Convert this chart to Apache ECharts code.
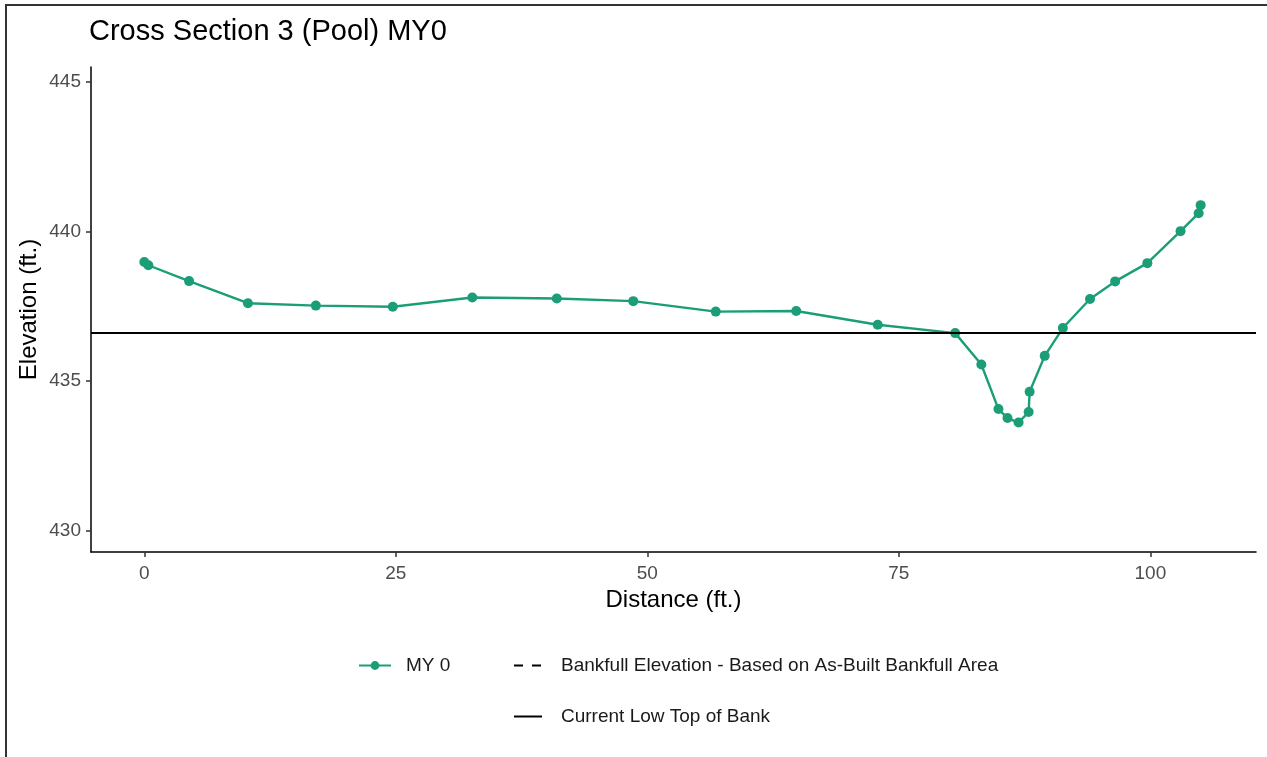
<!DOCTYPE html>
<html>
<head>
<meta charset="utf-8">
<script src="https://cdn.jsdelivr.net/npm/echarts@6/dist/echarts.min.js"></script>
<style>
html,body{margin:0;padding:0;background:#fff;}
#chart{width:1267px;height:757px;}
</style>
</head>
<body>
<div id="chart"></div>
<script>
// Cross-section survey points (MY 0)
var distance = [0, 0.4, 4.45, 10.3, 17.05, 24.7, 32.6, 41.0, 48.6, 56.8, 64.8, 72.9, 80.6, 83.2, 84.9, 85.8, 86.9, 87.9, 88.0, 89.5, 91.3, 94.0, 96.5, 99.7, 103.0, 104.8, 105.0];
var elevation = [438.98, 438.87, 438.34, 437.60, 437.52, 437.48, 437.79, 437.76, 437.67, 437.32, 437.34, 436.88, 436.60, 435.55, 434.06, 433.76, 433.61, 433.96, 434.64, 435.84, 436.77, 437.74, 438.33, 438.94, 440.01, 440.61, 440.88];
var lowTopOfBank = 436.60;
var xTicks = [0, 25, 50, 75, 100];
var yTicks = [430, 435, 440, 445];
var seriesNames = ['MY 0', 'Bankfull Elevation - Based on As-Built Bankfull Area', 'Current Low Top of Bank'];

var my0 = distance.map(function (d, i) { return [d, elevation[i]]; });

var FONT = '"Liberation Sans", Arial, Helvetica, sans-serif';
var chart = echarts.init(document.getElementById('chart'));
var legendText = function (pad) {
  return { fontFamily: FONT, fontSize: 19, color: '#1a1a1a', padding: [0, 0, 0, pad] };
};
chart.setOption({
  animation: false,
  backgroundColor: '#ffffff',
  title: {
    text: 'Cross Section 3 (Pool) MY0',
    left: 89,
    top: 17,
    padding: 0,
    textStyle: { fontFamily: FONT, fontSize: 29, fontWeight: 'normal', color: '#000' }
  },
  graphic: [{
    type: 'rect',
    shape: { x: 6, y: 5, width: 1400, height: 900 },
    style: { fill: 'none', stroke: '#333', lineWidth: 2 },
    silent: true,
    z: -1
  }],
  grid: { left: 91, right: 11, top: 67, bottom: 205, containLabel: false },
  xAxis: {
    type: 'value',
    min: -5.3,
    max: 110.5,
    name: 'Distance (ft.)',
    nameLocation: 'middle',
    nameGap: 35,
    nameTextStyle: { fontFamily: FONT, fontSize: 24, color: '#000' },
    axisLine: { show: true, onZero: false, lineStyle: { color: '#000', width: 1.5 } },
    axisTick: { show: true, length: 5, customValues: xTicks, lineStyle: { color: '#333', width: 1.5 } },
    axisLabel: { customValues: xTicks, margin: 12, fontFamily: FONT, fontSize: 19, color: '#4d4d4d' },
    splitLine: { show: false }
  },
  yAxis: {
    type: 'value',
    min: 429.28,
    max: 445.5,
    name: 'Elevation (ft.)',
    nameLocation: 'middle',
    nameGap: 50,
    nameMoveOverlap: false,
    nameRotate: 90,
    nameTextStyle: { fontFamily: FONT, fontSize: 24, color: '#000' },
    axisLine: { show: true, onZero: false, lineStyle: { color: '#000', width: 1.5 } },
    axisTick: { show: true, length: 5, customValues: yTicks, lineStyle: { color: '#333', width: 1.5 } },
    axisLabel: { customValues: yTicks, margin: 10, fontFamily: FONT, fontSize: 19, color: '#4d4d4d' },
    splitLine: { show: false }
  },
  legend: [
    {
      data: [seriesNames[0]], left: 358, top: 656, padding: 0,
      itemWidth: 32, itemHeight: 11, selectedMode: false,
      textStyle: legendText(10)
    },
    {
      data: [seriesNames[1]], left: 513, top: 656, padding: 0,
      itemWidth: 28, itemHeight: 11, selectedMode: false,
      itemStyle: { opacity: 0 },
      lineStyle: { color: '#000', width: 2, type: [9, 9] },
      textStyle: legendText(14)
    },
    {
      data: [seriesNames[2]], left: 513, top: 707, padding: 0,
      itemWidth: 28, itemHeight: 11, selectedMode: false,
      itemStyle: { opacity: 0 },
      lineStyle: { color: '#000', width: 2, type: 'solid' },
      textStyle: legendText(14)
    }
  ],
  series: [
    {
      name: seriesNames[0],
      type: 'line',
      data: my0,
      symbol: 'circle',
      symbolSize: 10,
      color: '#1b9e77',
      itemStyle: { color: '#1b9e77' },
      lineStyle: { color: '#1b9e77', width: 2.4 },
      z: 3
    },
    {
      name: seriesNames[1],
      type: 'line',
      data: [],
      symbol: 'none',
      color: '#000',
      lineStyle: { color: '#000', width: 2, type: [9, 9] }
    },
    {
      name: seriesNames[2],
      type: 'line',
      data: [],
      symbol: 'none',
      color: '#000',
      lineStyle: { color: '#000', width: 2 },
      markLine: {
        silent: true,
        symbol: ['none', 'none'],
        label: { show: false },
        lineStyle: { color: '#000', width: 2, type: 'solid' },
        emphasis: { disabled: true },
        data: [{ yAxis: lowTopOfBank }]
      },
      z: 2
    }
  ]
});
</script>
</body>
</html>
